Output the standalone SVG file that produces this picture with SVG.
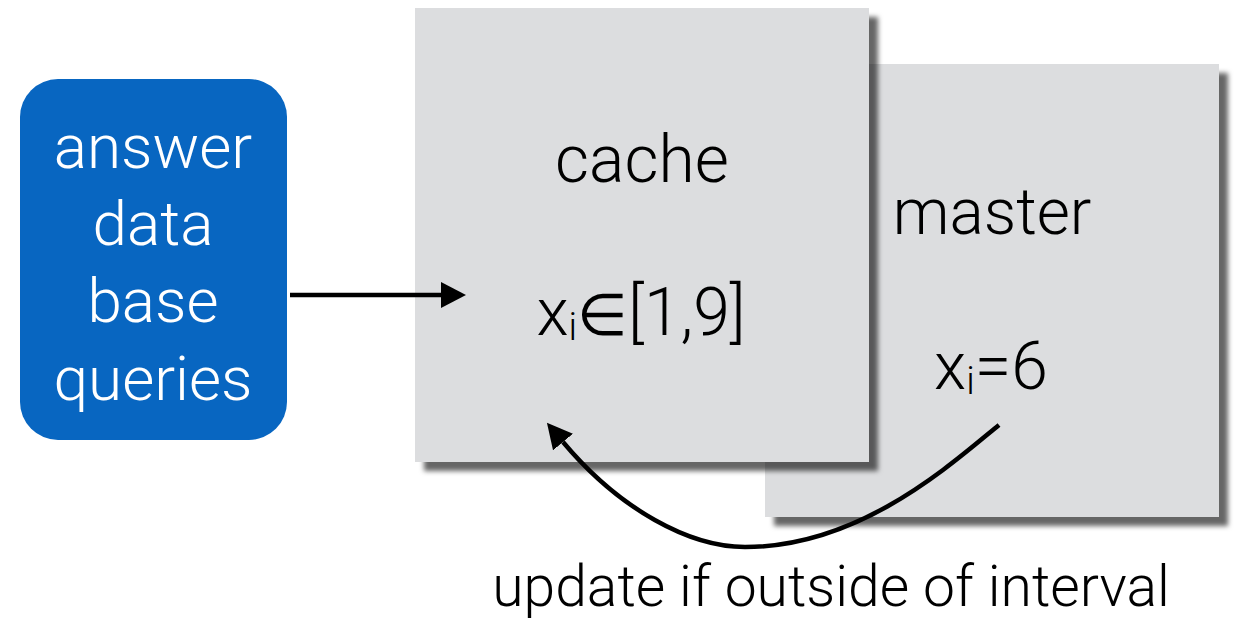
<svg xmlns="http://www.w3.org/2000/svg" width="1243" height="619" viewBox="0 0 1243 619">
  <style>
    .box { fill: #dcdddf; }
    .lbl { font-family: Roboto, "Liberation Sans", Arial, sans-serif; font-weight: 300; fill: #000; text-anchor: middle; }
    .wlbl { font-family: Roboto, "Liberation Sans", Arial, sans-serif; font-weight: 300; fill: #fff; text-anchor: middle; font-size: 62px; }
    .conn { fill: none; stroke: #000; stroke-width: 4.5; }
  </style>
  <defs>
    <filter id="shadow" x="-10%" y="-10%" width="130%" height="130%">
      <feDropShadow dx="9" dy="9" stdDeviation="2.5" flood-color="#000" flood-opacity="0.6"/>
    </filter>
    <marker id="arrow" markerUnits="userSpaceOnUse" markerWidth="26" markerHeight="26" refX="0" refY="13" orient="auto" viewBox="0 0 26 26">
      <path d="M0,0 L25,13 L0,26 Z" fill="#000"/>
    </marker>
  </defs>

  <g id="master">
    <rect class="box" x="765" y="64" width="454" height="453" filter="url(#shadow)"/>
    <text class="lbl" x="992" y="234" font-size="64">master</text>
    <text class="lbl" x="991" y="389" font-size="66">x<tspan font-size="38" dy="5">i</tspan><tspan dy="-5">=6</tspan></text>
  </g>

  <g id="cache">
    <rect class="box" x="415" y="8" width="454" height="454" filter="url(#shadow)"/>
    <text class="lbl" x="642" y="182" font-size="66">cache</text>
    <text class="lbl" x="641" y="335" font-size="66">x<tspan font-size="38" dy="5">i</tspan><tspan font-size="58" dy="-5">∈</tspan><tspan>[1,9]</tspan></text>
  </g>

  <g id="queries">
    <rect x="20" y="79" width="267" height="361" rx="38" ry="38" fill="#0866c1"/>
    <text class="wlbl" x="153" y="168">answer</text>
    <text class="wlbl" x="153" y="245">data</text>
    <text class="wlbl" x="153" y="322">base</text>
    <text class="wlbl" x="153" y="400">queries</text>
  </g>

  <g id="connectors">
    <path class="conn" d="M290,295 L441,295" marker-end="url(#arrow)"/>
    <path class="conn" d="M999,425 C950,465 860,547 745,547 C690,547 620,510 563,442" marker-end="url(#arrow)"/>
  </g>

  <g id="update-label">
    <text class="lbl" x="831" y="606" font-size="57">update if outside of interval</text>
  </g>
</svg>
